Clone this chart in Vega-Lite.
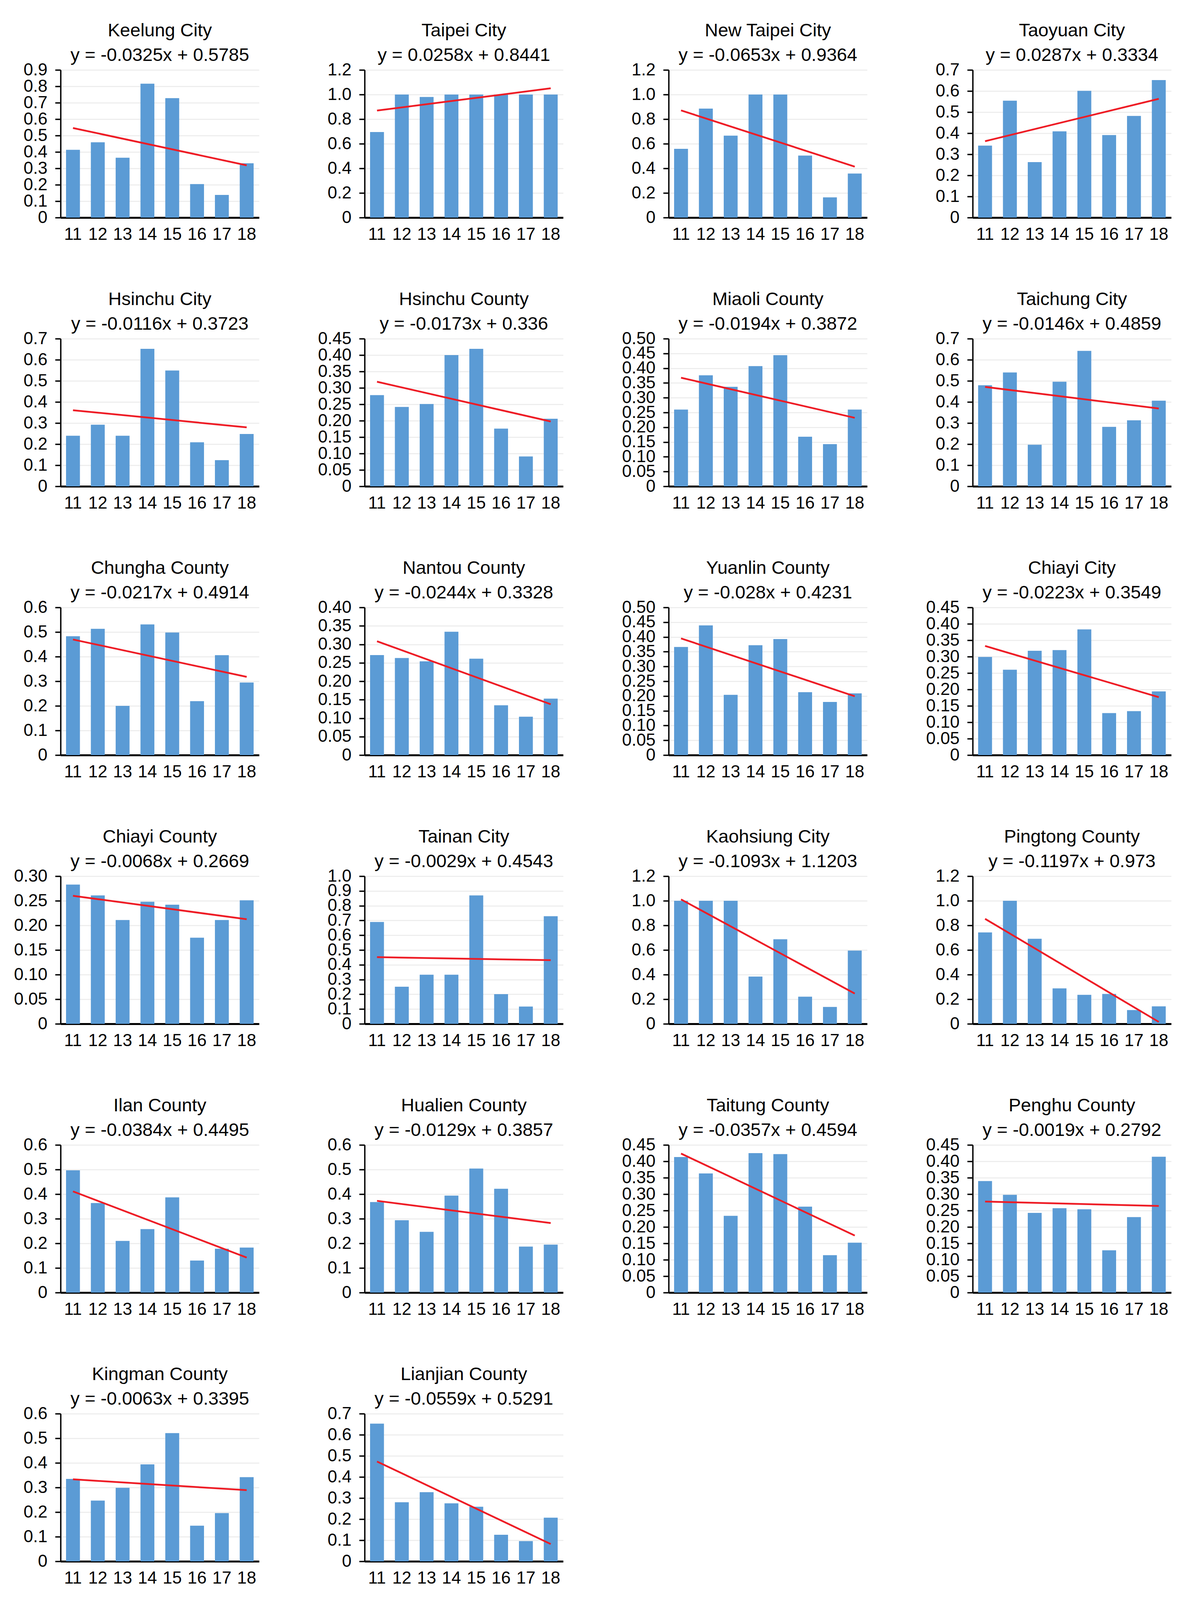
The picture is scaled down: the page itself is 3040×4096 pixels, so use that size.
{
  "$schema": "https://vega.github.io/schema/vega-lite/v6.json",
  "background": "white",
  "padding": {"left": 35, "top": 55, "right": 10, "bottom": 10},
  "config": {
    "font": "Liberation Sans",
    "view": {"stroke": null},
    "scale": {"bandPaddingInner": 0.44, "bandPaddingOuter": 0.22},
    "title": {"font": "Liberation Sans", "fontSize": 47, "fontWeight": "normal", "color": "black", "subtitleFont": "Liberation Sans", "subtitleFontSize": 47, "subtitleColor": "black", "subtitlePadding": 16, "anchor": "middle", "frame": "group", "offset": -9},
    "axis": {"labelFont": "Liberation Sans", "labelFontSize": 44, "labelColor": "black", "title": null, "labelOverlap": false, "labelFlush": false, "labelBound": false},
    "axisY": {"domainColor": "black", "domainWidth": 3.5, "tickColor": "black", "tickWidth": 3.5, "tickSize": 14, "labelPadding": 20, "gridColor": "#EBEBEB", "gridWidth": 2.5, "labelOverlap": false, "tickCount": 20},
    "axisX": {"domainColor": "black", "domainWidth": 5, "ticks": false, "tickSize": 0, "labelAngle": 0, "labelPadding": 21, "grid": false, "zindex": 1}
  },
  "datasets": {
    "bars": [
      {"region": "Keelung City", "year": 11, "value": 0.413}, {"region": "Keelung City", "year": 12, "value": 0.459}, {"region": "Keelung City", "year": 13, "value": 0.365}, {"region": "Keelung City", "year": 14, "value": 0.816}, {"region": "Keelung City", "year": 15, "value": 0.728}, {"region": "Keelung City", "year": 16, "value": 0.204}, {"region": "Keelung City", "year": 17, "value": 0.138}, {"region": "Keelung City", "year": 18, "value": 0.331},
      {"region": "Taipei City", "year": 11, "value": 0.695}, {"region": "Taipei City", "year": 12, "value": 1.0}, {"region": "Taipei City", "year": 13, "value": 0.98}, {"region": "Taipei City", "year": 14, "value": 1.0}, {"region": "Taipei City", "year": 15, "value": 1.0}, {"region": "Taipei City", "year": 16, "value": 1.0}, {"region": "Taipei City", "year": 17, "value": 1.0}, {"region": "Taipei City", "year": 18, "value": 1.0},
      {"region": "New Taipei City", "year": 11, "value": 0.559}, {"region": "New Taipei City", "year": 12, "value": 0.886}, {"region": "New Taipei City", "year": 13, "value": 0.666}, {"region": "New Taipei City", "year": 14, "value": 1.0}, {"region": "New Taipei City", "year": 15, "value": 1.0}, {"region": "New Taipei City", "year": 16, "value": 0.504}, {"region": "New Taipei City", "year": 17, "value": 0.164}, {"region": "New Taipei City", "year": 18, "value": 0.358},
      {"region": "Taoyuan City", "year": 11, "value": 0.341}, {"region": "Taoyuan City", "year": 12, "value": 0.554}, {"region": "Taoyuan City", "year": 13, "value": 0.263}, {"region": "Taoyuan City", "year": 14, "value": 0.409}, {"region": "Taoyuan City", "year": 15, "value": 0.601}, {"region": "Taoyuan City", "year": 16, "value": 0.391}, {"region": "Taoyuan City", "year": 17, "value": 0.482}, {"region": "Taoyuan City", "year": 18, "value": 0.652},
      {"region": "Hsinchu City", "year": 11, "value": 0.240}, {"region": "Hsinchu City", "year": 12, "value": 0.292}, {"region": "Hsinchu City", "year": 13, "value": 0.240}, {"region": "Hsinchu City", "year": 14, "value": 0.652}, {"region": "Hsinchu City", "year": 15, "value": 0.549}, {"region": "Hsinchu City", "year": 16, "value": 0.209}, {"region": "Hsinchu City", "year": 17, "value": 0.124}, {"region": "Hsinchu City", "year": 18, "value": 0.248},
      {"region": "Hsinchu County", "year": 11, "value": 0.278}, {"region": "Hsinchu County", "year": 12, "value": 0.242}, {"region": "Hsinchu County", "year": 13, "value": 0.251}, {"region": "Hsinchu County", "year": 14, "value": 0.400}, {"region": "Hsinchu County", "year": 15, "value": 0.419}, {"region": "Hsinchu County", "year": 16, "value": 0.176}, {"region": "Hsinchu County", "year": 17, "value": 0.091}, {"region": "Hsinchu County", "year": 18, "value": 0.206},
      {"region": "Miaoli County", "year": 11, "value": 0.260}, {"region": "Miaoli County", "year": 12, "value": 0.376}, {"region": "Miaoli County", "year": 13, "value": 0.337}, {"region": "Miaoli County", "year": 14, "value": 0.407}, {"region": "Miaoli County", "year": 15, "value": 0.444}, {"region": "Miaoli County", "year": 16, "value": 0.168}, {"region": "Miaoli County", "year": 17, "value": 0.143}, {"region": "Miaoli County", "year": 18, "value": 0.260},
      {"region": "Taichung City", "year": 11, "value": 0.479}, {"region": "Taichung City", "year": 12, "value": 0.540}, {"region": "Taichung City", "year": 13, "value": 0.197}, {"region": "Taichung City", "year": 14, "value": 0.496}, {"region": "Taichung City", "year": 15, "value": 0.642}, {"region": "Taichung City", "year": 16, "value": 0.282}, {"region": "Taichung City", "year": 17, "value": 0.313}, {"region": "Taichung City", "year": 18, "value": 0.406},
      {"region": "Chungha County", "year": 11, "value": 0.483}, {"region": "Chungha County", "year": 12, "value": 0.513}, {"region": "Chungha County", "year": 13, "value": 0.200}, {"region": "Chungha County", "year": 14, "value": 0.531}, {"region": "Chungha County", "year": 15, "value": 0.498}, {"region": "Chungha County", "year": 16, "value": 0.219}, {"region": "Chungha County", "year": 17, "value": 0.406}, {"region": "Chungha County", "year": 18, "value": 0.295},
      {"region": "Nantou County", "year": 11, "value": 0.271}, {"region": "Nantou County", "year": 12, "value": 0.263}, {"region": "Nantou County", "year": 13, "value": 0.254}, {"region": "Nantou County", "year": 14, "value": 0.334}, {"region": "Nantou County", "year": 15, "value": 0.261}, {"region": "Nantou County", "year": 16, "value": 0.135}, {"region": "Nantou County", "year": 17, "value": 0.104}, {"region": "Nantou County", "year": 18, "value": 0.153},
      {"region": "Yuanlin County", "year": 11, "value": 0.366}, {"region": "Yuanlin County", "year": 12, "value": 0.439}, {"region": "Yuanlin County", "year": 13, "value": 0.204}, {"region": "Yuanlin County", "year": 14, "value": 0.372}, {"region": "Yuanlin County", "year": 15, "value": 0.393}, {"region": "Yuanlin County", "year": 16, "value": 0.213}, {"region": "Yuanlin County", "year": 17, "value": 0.180}, {"region": "Yuanlin County", "year": 18, "value": 0.209},
      {"region": "Chiayi City", "year": 11, "value": 0.299}, {"region": "Chiayi City", "year": 12, "value": 0.260}, {"region": "Chiayi City", "year": 13, "value": 0.318}, {"region": "Chiayi City", "year": 14, "value": 0.320}, {"region": "Chiayi City", "year": 15, "value": 0.383}, {"region": "Chiayi City", "year": 16, "value": 0.128}, {"region": "Chiayi City", "year": 17, "value": 0.134}, {"region": "Chiayi City", "year": 18, "value": 0.194},
      {"region": "Chiayi County", "year": 11, "value": 0.283}, {"region": "Chiayi County", "year": 12, "value": 0.261}, {"region": "Chiayi County", "year": 13, "value": 0.211}, {"region": "Chiayi County", "year": 14, "value": 0.248}, {"region": "Chiayi County", "year": 15, "value": 0.242}, {"region": "Chiayi County", "year": 16, "value": 0.175}, {"region": "Chiayi County", "year": 17, "value": 0.211}, {"region": "Chiayi County", "year": 18, "value": 0.251},
      {"region": "Tainan City", "year": 11, "value": 0.690}, {"region": "Tainan City", "year": 12, "value": 0.251}, {"region": "Tainan City", "year": 13, "value": 0.333}, {"region": "Tainan City", "year": 14, "value": 0.333}, {"region": "Tainan City", "year": 15, "value": 0.870}, {"region": "Tainan City", "year": 16, "value": 0.201}, {"region": "Tainan City", "year": 17, "value": 0.117}, {"region": "Tainan City", "year": 18, "value": 0.729},
      {"region": "Kaohsiung City", "year": 11, "value": 1.0}, {"region": "Kaohsiung City", "year": 12, "value": 1.0}, {"region": "Kaohsiung City", "year": 13, "value": 1.0}, {"region": "Kaohsiung City", "year": 14, "value": 0.384}, {"region": "Kaohsiung City", "year": 15, "value": 0.687}, {"region": "Kaohsiung City", "year": 16, "value": 0.221}, {"region": "Kaohsiung City", "year": 17, "value": 0.137}, {"region": "Kaohsiung City", "year": 18, "value": 0.595},
      {"region": "Pingtong County", "year": 11, "value": 0.743}, {"region": "Pingtong County", "year": 12, "value": 1.0}, {"region": "Pingtong County", "year": 13, "value": 0.691}, {"region": "Pingtong County", "year": 14, "value": 0.288}, {"region": "Pingtong County", "year": 15, "value": 0.236}, {"region": "Pingtong County", "year": 16, "value": 0.243}, {"region": "Pingtong County", "year": 17, "value": 0.112}, {"region": "Pingtong County", "year": 18, "value": 0.142},
      {"region": "Ilan County", "year": 11, "value": 0.497}, {"region": "Ilan County", "year": 12, "value": 0.364}, {"region": "Ilan County", "year": 13, "value": 0.210}, {"region": "Ilan County", "year": 14, "value": 0.258}, {"region": "Ilan County", "year": 15, "value": 0.387}, {"region": "Ilan County", "year": 16, "value": 0.130}, {"region": "Ilan County", "year": 17, "value": 0.178}, {"region": "Ilan County", "year": 18, "value": 0.183},
      {"region": "Hualien County", "year": 11, "value": 0.368}, {"region": "Hualien County", "year": 12, "value": 0.294}, {"region": "Hualien County", "year": 13, "value": 0.247}, {"region": "Hualien County", "year": 14, "value": 0.394}, {"region": "Hualien County", "year": 15, "value": 0.504}, {"region": "Hualien County", "year": 16, "value": 0.422}, {"region": "Hualien County", "year": 17, "value": 0.187}, {"region": "Hualien County", "year": 18, "value": 0.195},
      {"region": "Taitung County", "year": 11, "value": 0.413}, {"region": "Taitung County", "year": 12, "value": 0.363}, {"region": "Taitung County", "year": 13, "value": 0.234}, {"region": "Taitung County", "year": 14, "value": 0.425}, {"region": "Taitung County", "year": 15, "value": 0.422}, {"region": "Taitung County", "year": 16, "value": 0.262}, {"region": "Taitung County", "year": 17, "value": 0.114}, {"region": "Taitung County", "year": 18, "value": 0.152},
      {"region": "Penghu County", "year": 11, "value": 0.340}, {"region": "Penghu County", "year": 12, "value": 0.298}, {"region": "Penghu County", "year": 13, "value": 0.243}, {"region": "Penghu County", "year": 14, "value": 0.257}, {"region": "Penghu County", "year": 15, "value": 0.254}, {"region": "Penghu County", "year": 16, "value": 0.129}, {"region": "Penghu County", "year": 17, "value": 0.230}, {"region": "Penghu County", "year": 18, "value": 0.414},
      {"region": "Kingman County", "year": 11, "value": 0.335}, {"region": "Kingman County", "year": 12, "value": 0.247}, {"region": "Kingman County", "year": 13, "value": 0.299}, {"region": "Kingman County", "year": 14, "value": 0.394}, {"region": "Kingman County", "year": 15, "value": 0.521}, {"region": "Kingman County", "year": 16, "value": 0.145}, {"region": "Kingman County", "year": 17, "value": 0.196}, {"region": "Kingman County", "year": 18, "value": 0.342},
      {"region": "Lianjian County", "year": 11, "value": 0.653}, {"region": "Lianjian County", "year": 12, "value": 0.280}, {"region": "Lianjian County", "year": 13, "value": 0.328}, {"region": "Lianjian County", "year": 14, "value": 0.275}, {"region": "Lianjian County", "year": 15, "value": 0.259}, {"region": "Lianjian County", "year": 16, "value": 0.126}, {"region": "Lianjian County", "year": 17, "value": 0.096}, {"region": "Lianjian County", "year": 18, "value": 0.207}
    ],
    "trend": [
      {"region": "Keelung City", "year": 11, "value": 0.546}, {"region": "Keelung City", "year": 18, "value": 0.3185},
      {"region": "Taipei City", "year": 11, "value": 0.8699}, {"region": "Taipei City", "year": 18, "value": 1.0505},
      {"region": "New Taipei City", "year": 11, "value": 0.8711}, {"region": "New Taipei City", "year": 18, "value": 0.414},
      {"region": "Taoyuan City", "year": 11, "value": 0.3621}, {"region": "Taoyuan City", "year": 18, "value": 0.563},
      {"region": "Hsinchu City", "year": 11, "value": 0.3607}, {"region": "Hsinchu City", "year": 18, "value": 0.2795},
      {"region": "Hsinchu County", "year": 11, "value": 0.3187}, {"region": "Hsinchu County", "year": 18, "value": 0.1976},
      {"region": "Miaoli County", "year": 11, "value": 0.3678}, {"region": "Miaoli County", "year": 18, "value": 0.232},
      {"region": "Taichung City", "year": 11, "value": 0.4713}, {"region": "Taichung City", "year": 18, "value": 0.3691},
      {"region": "Chungha County", "year": 11, "value": 0.4697}, {"region": "Chungha County", "year": 18, "value": 0.3178},
      {"region": "Nantou County", "year": 11, "value": 0.3084}, {"region": "Nantou County", "year": 18, "value": 0.1376},
      {"region": "Yuanlin County", "year": 11, "value": 0.3951}, {"region": "Yuanlin County", "year": 18, "value": 0.1991},
      {"region": "Chiayi City", "year": 11, "value": 0.3326}, {"region": "Chiayi City", "year": 18, "value": 0.1765},
      {"region": "Chiayi County", "year": 11, "value": 0.2601}, {"region": "Chiayi County", "year": 18, "value": 0.2125},
      {"region": "Tainan City", "year": 11, "value": 0.4514}, {"region": "Tainan City", "year": 18, "value": 0.4311},
      {"region": "Kaohsiung City", "year": 11, "value": 1.011}, {"region": "Kaohsiung City", "year": 18, "value": 0.2459},
      {"region": "Pingtong County", "year": 11, "value": 0.8533}, {"region": "Pingtong County", "year": 18, "value": 0.0154},
      {"region": "Ilan County", "year": 11, "value": 0.4111}, {"region": "Ilan County", "year": 18, "value": 0.1423},
      {"region": "Hualien County", "year": 11, "value": 0.3728}, {"region": "Hualien County", "year": 18, "value": 0.2825},
      {"region": "Taitung County", "year": 11, "value": 0.4237}, {"region": "Taitung County", "year": 18, "value": 0.1738},
      {"region": "Penghu County", "year": 11, "value": 0.2773}, {"region": "Penghu County", "year": 18, "value": 0.264},
      {"region": "Kingman County", "year": 11, "value": 0.3332}, {"region": "Kingman County", "year": 18, "value": 0.2891},
      {"region": "Lianjian County", "year": 11, "value": 0.4732}, {"region": "Lianjian County", "year": 18, "value": 0.0819}
    ]
  },
  "columns": 4,
  "spacing": {"row": 121, "column": 150},
  "concat": [
    {"title": {"text": "Keelung City", "subtitle": "y = -0.0325x + 0.5785"}, "width": 508, "height": 378, "layer": [
      {"data": {"name": "bars"}, "transform": [{"filter": "datum.region == 'Keelung City'"}], "mark": {"type": "bar", "color": "#5B9BD5"}, "encoding": {"x": {"field": "year", "type": "ordinal"}, "y": {"field": "value", "type": "quantitative", "scale": {"domain": [0, 0.9]}, "axis": {"tickCount": 20, "labelOverlap": false, "values": [0, 0.1, 0.2, 0.3, 0.4, 0.5, 0.6, 0.7, 0.8, 0.9], "labelExpr": "datum.value == 0 ? '0' : format(datum.value, '.1f')"}}}},
      {"data": {"name": "trend"}, "transform": [{"filter": "datum.region == 'Keelung City'"}], "mark": {"type": "line", "color": "#EE1C25", "strokeWidth": 4.5}, "encoding": {"x": {"field": "year", "type": "ordinal"}, "y": {"field": "value", "type": "quantitative"}}}
    ]},
    {"title": {"text": "Taipei City", "subtitle": "y = 0.0258x + 0.8441"}, "width": 508, "height": 378, "layer": [
      {"data": {"name": "bars"}, "transform": [{"filter": "datum.region == 'Taipei City'"}], "mark": {"type": "bar", "color": "#5B9BD5"}, "encoding": {"x": {"field": "year", "type": "ordinal"}, "y": {"field": "value", "type": "quantitative", "scale": {"domain": [0, 1.2]}, "axis": {"tickCount": 20, "labelOverlap": false, "values": [0, 0.2, 0.4, 0.6, 0.8, 1.0, 1.2], "labelExpr": "datum.value == 0 ? '0' : format(datum.value, '.1f')"}}}},
      {"data": {"name": "trend"}, "transform": [{"filter": "datum.region == 'Taipei City'"}], "mark": {"type": "line", "color": "#EE1C25", "strokeWidth": 4.5}, "encoding": {"x": {"field": "year", "type": "ordinal"}, "y": {"field": "value", "type": "quantitative"}}}
    ]},
    {"title": {"text": "New Taipei City", "subtitle": "y = -0.0653x + 0.9364"}, "width": 508, "height": 378, "layer": [
      {"data": {"name": "bars"}, "transform": [{"filter": "datum.region == 'New Taipei City'"}], "mark": {"type": "bar", "color": "#5B9BD5"}, "encoding": {"x": {"field": "year", "type": "ordinal"}, "y": {"field": "value", "type": "quantitative", "scale": {"domain": [0, 1.2]}, "axis": {"tickCount": 20, "labelOverlap": false, "values": [0, 0.2, 0.4, 0.6, 0.8, 1.0, 1.2], "labelExpr": "datum.value == 0 ? '0' : format(datum.value, '.1f')"}}}},
      {"data": {"name": "trend"}, "transform": [{"filter": "datum.region == 'New Taipei City'"}], "mark": {"type": "line", "color": "#EE1C25", "strokeWidth": 4.5}, "encoding": {"x": {"field": "year", "type": "ordinal"}, "y": {"field": "value", "type": "quantitative"}}}
    ]},
    {"title": {"text": "Taoyuan City", "subtitle": "y = 0.0287x + 0.3334"}, "width": 508, "height": 378, "layer": [
      {"data": {"name": "bars"}, "transform": [{"filter": "datum.region == 'Taoyuan City'"}], "mark": {"type": "bar", "color": "#5B9BD5"}, "encoding": {"x": {"field": "year", "type": "ordinal"}, "y": {"field": "value", "type": "quantitative", "scale": {"domain": [0, 0.7]}, "axis": {"tickCount": 20, "labelOverlap": false, "values": [0, 0.1, 0.2, 0.3, 0.4, 0.5, 0.6, 0.7], "labelExpr": "datum.value == 0 ? '0' : format(datum.value, '.1f')"}}}},
      {"data": {"name": "trend"}, "transform": [{"filter": "datum.region == 'Taoyuan City'"}], "mark": {"type": "line", "color": "#EE1C25", "strokeWidth": 4.5}, "encoding": {"x": {"field": "year", "type": "ordinal"}, "y": {"field": "value", "type": "quantitative"}}}
    ]},
    {"title": {"text": "Hsinchu City", "subtitle": "y = -0.0116x + 0.3723"}, "width": 508, "height": 378, "layer": [
      {"data": {"name": "bars"}, "transform": [{"filter": "datum.region == 'Hsinchu City'"}], "mark": {"type": "bar", "color": "#5B9BD5"}, "encoding": {"x": {"field": "year", "type": "ordinal"}, "y": {"field": "value", "type": "quantitative", "scale": {"domain": [0, 0.7]}, "axis": {"tickCount": 20, "labelOverlap": false, "values": [0, 0.1, 0.2, 0.3, 0.4, 0.5, 0.6, 0.7], "labelExpr": "datum.value == 0 ? '0' : format(datum.value, '.1f')"}}}},
      {"data": {"name": "trend"}, "transform": [{"filter": "datum.region == 'Hsinchu City'"}], "mark": {"type": "line", "color": "#EE1C25", "strokeWidth": 4.5}, "encoding": {"x": {"field": "year", "type": "ordinal"}, "y": {"field": "value", "type": "quantitative"}}}
    ]},
    {"title": {"text": "Hsinchu County", "subtitle": "y = -0.0173x + 0.336"}, "width": 508, "height": 378, "layer": [
      {"data": {"name": "bars"}, "transform": [{"filter": "datum.region == 'Hsinchu County'"}], "mark": {"type": "bar", "color": "#5B9BD5"}, "encoding": {"x": {"field": "year", "type": "ordinal"}, "y": {"field": "value", "type": "quantitative", "scale": {"domain": [0, 0.45]}, "axis": {"tickCount": 20, "labelOverlap": false, "values": [0, 0.05, 0.1, 0.15, 0.2, 0.25, 0.3, 0.35, 0.4, 0.45], "labelExpr": "datum.value == 0 ? '0' : format(datum.value, '.2f')"}}}},
      {"data": {"name": "trend"}, "transform": [{"filter": "datum.region == 'Hsinchu County'"}], "mark": {"type": "line", "color": "#EE1C25", "strokeWidth": 4.5}, "encoding": {"x": {"field": "year", "type": "ordinal"}, "y": {"field": "value", "type": "quantitative"}}}
    ]},
    {"title": {"text": "Miaoli County", "subtitle": "y = -0.0194x + 0.3872"}, "width": 508, "height": 378, "layer": [
      {"data": {"name": "bars"}, "transform": [{"filter": "datum.region == 'Miaoli County'"}], "mark": {"type": "bar", "color": "#5B9BD5"}, "encoding": {"x": {"field": "year", "type": "ordinal"}, "y": {"field": "value", "type": "quantitative", "scale": {"domain": [0, 0.5]}, "axis": {"tickCount": 20, "labelOverlap": false, "values": [0, 0.05, 0.1, 0.15, 0.2, 0.25, 0.3, 0.35, 0.4, 0.45, 0.5], "labelExpr": "datum.value == 0 ? '0' : format(datum.value, '.2f')"}}}},
      {"data": {"name": "trend"}, "transform": [{"filter": "datum.region == 'Miaoli County'"}], "mark": {"type": "line", "color": "#EE1C25", "strokeWidth": 4.5}, "encoding": {"x": {"field": "year", "type": "ordinal"}, "y": {"field": "value", "type": "quantitative"}}}
    ]},
    {"title": {"text": "Taichung City", "subtitle": "y = -0.0146x + 0.4859"}, "width": 508, "height": 378, "layer": [
      {"data": {"name": "bars"}, "transform": [{"filter": "datum.region == 'Taichung City'"}], "mark": {"type": "bar", "color": "#5B9BD5"}, "encoding": {"x": {"field": "year", "type": "ordinal"}, "y": {"field": "value", "type": "quantitative", "scale": {"domain": [0, 0.7]}, "axis": {"tickCount": 20, "labelOverlap": false, "values": [0, 0.1, 0.2, 0.3, 0.4, 0.5, 0.6, 0.7], "labelExpr": "datum.value == 0 ? '0' : format(datum.value, '.1f')"}}}},
      {"data": {"name": "trend"}, "transform": [{"filter": "datum.region == 'Taichung City'"}], "mark": {"type": "line", "color": "#EE1C25", "strokeWidth": 4.5}, "encoding": {"x": {"field": "year", "type": "ordinal"}, "y": {"field": "value", "type": "quantitative"}}}
    ]},
    {"title": {"text": "Chungha County", "subtitle": "y = -0.0217x + 0.4914"}, "width": 508, "height": 378, "layer": [
      {"data": {"name": "bars"}, "transform": [{"filter": "datum.region == 'Chungha County'"}], "mark": {"type": "bar", "color": "#5B9BD5"}, "encoding": {"x": {"field": "year", "type": "ordinal"}, "y": {"field": "value", "type": "quantitative", "scale": {"domain": [0, 0.6]}, "axis": {"tickCount": 20, "labelOverlap": false, "values": [0, 0.1, 0.2, 0.3, 0.4, 0.5, 0.6], "labelExpr": "datum.value == 0 ? '0' : format(datum.value, '.1f')"}}}},
      {"data": {"name": "trend"}, "transform": [{"filter": "datum.region == 'Chungha County'"}], "mark": {"type": "line", "color": "#EE1C25", "strokeWidth": 4.5}, "encoding": {"x": {"field": "year", "type": "ordinal"}, "y": {"field": "value", "type": "quantitative"}}}
    ]},
    {"title": {"text": "Nantou County", "subtitle": "y = -0.0244x + 0.3328"}, "width": 508, "height": 378, "layer": [
      {"data": {"name": "bars"}, "transform": [{"filter": "datum.region == 'Nantou County'"}], "mark": {"type": "bar", "color": "#5B9BD5"}, "encoding": {"x": {"field": "year", "type": "ordinal"}, "y": {"field": "value", "type": "quantitative", "scale": {"domain": [0, 0.4]}, "axis": {"tickCount": 20, "labelOverlap": false, "values": [0, 0.05, 0.1, 0.15, 0.2, 0.25, 0.3, 0.35, 0.4], "labelExpr": "datum.value == 0 ? '0' : format(datum.value, '.2f')"}}}},
      {"data": {"name": "trend"}, "transform": [{"filter": "datum.region == 'Nantou County'"}], "mark": {"type": "line", "color": "#EE1C25", "strokeWidth": 4.5}, "encoding": {"x": {"field": "year", "type": "ordinal"}, "y": {"field": "value", "type": "quantitative"}}}
    ]},
    {"title": {"text": "Yuanlin County", "subtitle": "y = -0.028x + 0.4231"}, "width": 508, "height": 378, "layer": [
      {"data": {"name": "bars"}, "transform": [{"filter": "datum.region == 'Yuanlin County'"}], "mark": {"type": "bar", "color": "#5B9BD5"}, "encoding": {"x": {"field": "year", "type": "ordinal"}, "y": {"field": "value", "type": "quantitative", "scale": {"domain": [0, 0.5]}, "axis": {"tickCount": 20, "labelOverlap": false, "values": [0, 0.05, 0.1, 0.15, 0.2, 0.25, 0.3, 0.35, 0.4, 0.45, 0.5], "labelExpr": "datum.value == 0 ? '0' : format(datum.value, '.2f')"}}}},
      {"data": {"name": "trend"}, "transform": [{"filter": "datum.region == 'Yuanlin County'"}], "mark": {"type": "line", "color": "#EE1C25", "strokeWidth": 4.5}, "encoding": {"x": {"field": "year", "type": "ordinal"}, "y": {"field": "value", "type": "quantitative"}}}
    ]},
    {"title": {"text": "Chiayi City", "subtitle": "y = -0.0223x + 0.3549"}, "width": 508, "height": 378, "layer": [
      {"data": {"name": "bars"}, "transform": [{"filter": "datum.region == 'Chiayi City'"}], "mark": {"type": "bar", "color": "#5B9BD5"}, "encoding": {"x": {"field": "year", "type": "ordinal"}, "y": {"field": "value", "type": "quantitative", "scale": {"domain": [0, 0.45]}, "axis": {"tickCount": 20, "labelOverlap": false, "values": [0, 0.05, 0.1, 0.15, 0.2, 0.25, 0.3, 0.35, 0.4, 0.45], "labelExpr": "datum.value == 0 ? '0' : format(datum.value, '.2f')"}}}},
      {"data": {"name": "trend"}, "transform": [{"filter": "datum.region == 'Chiayi City'"}], "mark": {"type": "line", "color": "#EE1C25", "strokeWidth": 4.5}, "encoding": {"x": {"field": "year", "type": "ordinal"}, "y": {"field": "value", "type": "quantitative"}}}
    ]},
    {"title": {"text": "Chiayi County", "subtitle": "y = -0.0068x + 0.2669"}, "width": 508, "height": 378, "layer": [
      {"data": {"name": "bars"}, "transform": [{"filter": "datum.region == 'Chiayi County'"}], "mark": {"type": "bar", "color": "#5B9BD5"}, "encoding": {"x": {"field": "year", "type": "ordinal"}, "y": {"field": "value", "type": "quantitative", "scale": {"domain": [0, 0.3]}, "axis": {"tickCount": 20, "labelOverlap": false, "values": [0, 0.05, 0.1, 0.15, 0.2, 0.25, 0.3], "labelExpr": "datum.value == 0 ? '0' : format(datum.value, '.2f')"}}}},
      {"data": {"name": "trend"}, "transform": [{"filter": "datum.region == 'Chiayi County'"}], "mark": {"type": "line", "color": "#EE1C25", "strokeWidth": 4.5}, "encoding": {"x": {"field": "year", "type": "ordinal"}, "y": {"field": "value", "type": "quantitative"}}}
    ]},
    {"title": {"text": "Tainan City", "subtitle": "y = -0.0029x + 0.4543"}, "width": 508, "height": 378, "layer": [
      {"data": {"name": "bars"}, "transform": [{"filter": "datum.region == 'Tainan City'"}], "mark": {"type": "bar", "color": "#5B9BD5"}, "encoding": {"x": {"field": "year", "type": "ordinal"}, "y": {"field": "value", "type": "quantitative", "scale": {"domain": [0, 1.0]}, "axis": {"tickCount": 20, "labelOverlap": false, "values": [0, 0.1, 0.2, 0.3, 0.4, 0.5, 0.6, 0.7, 0.8, 0.9, 1.0], "labelExpr": "datum.value == 0 ? '0' : format(datum.value, '.1f')"}}}},
      {"data": {"name": "trend"}, "transform": [{"filter": "datum.region == 'Tainan City'"}], "mark": {"type": "line", "color": "#EE1C25", "strokeWidth": 4.5}, "encoding": {"x": {"field": "year", "type": "ordinal"}, "y": {"field": "value", "type": "quantitative"}}}
    ]},
    {"title": {"text": "Kaohsiung City", "subtitle": "y = -0.1093x + 1.1203"}, "width": 508, "height": 378, "layer": [
      {"data": {"name": "bars"}, "transform": [{"filter": "datum.region == 'Kaohsiung City'"}], "mark": {"type": "bar", "color": "#5B9BD5"}, "encoding": {"x": {"field": "year", "type": "ordinal"}, "y": {"field": "value", "type": "quantitative", "scale": {"domain": [0, 1.2]}, "axis": {"tickCount": 20, "labelOverlap": false, "values": [0, 0.2, 0.4, 0.6, 0.8, 1.0, 1.2], "labelExpr": "datum.value == 0 ? '0' : format(datum.value, '.1f')"}}}},
      {"data": {"name": "trend"}, "transform": [{"filter": "datum.region == 'Kaohsiung City'"}], "mark": {"type": "line", "color": "#EE1C25", "strokeWidth": 4.5}, "encoding": {"x": {"field": "year", "type": "ordinal"}, "y": {"field": "value", "type": "quantitative"}}}
    ]},
    {"title": {"text": "Pingtong County", "subtitle": "y = -0.1197x + 0.973"}, "width": 508, "height": 378, "layer": [
      {"data": {"name": "bars"}, "transform": [{"filter": "datum.region == 'Pingtong County'"}], "mark": {"type": "bar", "color": "#5B9BD5"}, "encoding": {"x": {"field": "year", "type": "ordinal"}, "y": {"field": "value", "type": "quantitative", "scale": {"domain": [0, 1.2]}, "axis": {"tickCount": 20, "labelOverlap": false, "values": [0, 0.2, 0.4, 0.6, 0.8, 1.0, 1.2], "labelExpr": "datum.value == 0 ? '0' : format(datum.value, '.1f')"}}}},
      {"data": {"name": "trend"}, "transform": [{"filter": "datum.region == 'Pingtong County'"}], "mark": {"type": "line", "color": "#EE1C25", "strokeWidth": 4.5}, "encoding": {"x": {"field": "year", "type": "ordinal"}, "y": {"field": "value", "type": "quantitative"}}}
    ]},
    {"title": {"text": "Ilan County", "subtitle": "y = -0.0384x + 0.4495"}, "width": 508, "height": 378, "layer": [
      {"data": {"name": "bars"}, "transform": [{"filter": "datum.region == 'Ilan County'"}], "mark": {"type": "bar", "color": "#5B9BD5"}, "encoding": {"x": {"field": "year", "type": "ordinal"}, "y": {"field": "value", "type": "quantitative", "scale": {"domain": [0, 0.6]}, "axis": {"tickCount": 20, "labelOverlap": false, "values": [0, 0.1, 0.2, 0.3, 0.4, 0.5, 0.6], "labelExpr": "datum.value == 0 ? '0' : format(datum.value, '.1f')"}}}},
      {"data": {"name": "trend"}, "transform": [{"filter": "datum.region == 'Ilan County'"}], "mark": {"type": "line", "color": "#EE1C25", "strokeWidth": 4.5}, "encoding": {"x": {"field": "year", "type": "ordinal"}, "y": {"field": "value", "type": "quantitative"}}}
    ]},
    {"title": {"text": "Hualien County", "subtitle": "y = -0.0129x + 0.3857"}, "width": 508, "height": 378, "layer": [
      {"data": {"name": "bars"}, "transform": [{"filter": "datum.region == 'Hualien County'"}], "mark": {"type": "bar", "color": "#5B9BD5"}, "encoding": {"x": {"field": "year", "type": "ordinal"}, "y": {"field": "value", "type": "quantitative", "scale": {"domain": [0, 0.6]}, "axis": {"tickCount": 20, "labelOverlap": false, "values": [0, 0.1, 0.2, 0.3, 0.4, 0.5, 0.6], "labelExpr": "datum.value == 0 ? '0' : format(datum.value, '.1f')"}}}},
      {"data": {"name": "trend"}, "transform": [{"filter": "datum.region == 'Hualien County'"}], "mark": {"type": "line", "color": "#EE1C25", "strokeWidth": 4.5}, "encoding": {"x": {"field": "year", "type": "ordinal"}, "y": {"field": "value", "type": "quantitative"}}}
    ]},
    {"title": {"text": "Taitung County", "subtitle": "y = -0.0357x + 0.4594"}, "width": 508, "height": 378, "layer": [
      {"data": {"name": "bars"}, "transform": [{"filter": "datum.region == 'Taitung County'"}], "mark": {"type": "bar", "color": "#5B9BD5"}, "encoding": {"x": {"field": "year", "type": "ordinal"}, "y": {"field": "value", "type": "quantitative", "scale": {"domain": [0, 0.45]}, "axis": {"tickCount": 20, "labelOverlap": false, "values": [0, 0.05, 0.1, 0.15, 0.2, 0.25, 0.3, 0.35, 0.4, 0.45], "labelExpr": "datum.value == 0 ? '0' : format(datum.value, '.2f')"}}}},
      {"data": {"name": "trend"}, "transform": [{"filter": "datum.region == 'Taitung County'"}], "mark": {"type": "line", "color": "#EE1C25", "strokeWidth": 4.5}, "encoding": {"x": {"field": "year", "type": "ordinal"}, "y": {"field": "value", "type": "quantitative"}}}
    ]},
    {"title": {"text": "Penghu County", "subtitle": "y = -0.0019x + 0.2792"}, "width": 508, "height": 378, "layer": [
      {"data": {"name": "bars"}, "transform": [{"filter": "datum.region == 'Penghu County'"}], "mark": {"type": "bar", "color": "#5B9BD5"}, "encoding": {"x": {"field": "year", "type": "ordinal"}, "y": {"field": "value", "type": "quantitative", "scale": {"domain": [0, 0.45]}, "axis": {"tickCount": 20, "labelOverlap": false, "values": [0, 0.05, 0.1, 0.15, 0.2, 0.25, 0.3, 0.35, 0.4, 0.45], "labelExpr": "datum.value == 0 ? '0' : format(datum.value, '.2f')"}}}},
      {"data": {"name": "trend"}, "transform": [{"filter": "datum.region == 'Penghu County'"}], "mark": {"type": "line", "color": "#EE1C25", "strokeWidth": 4.5}, "encoding": {"x": {"field": "year", "type": "ordinal"}, "y": {"field": "value", "type": "quantitative"}}}
    ]},
    {"title": {"text": "Kingman County", "subtitle": "y = -0.0063x + 0.3395"}, "width": 508, "height": 378, "layer": [
      {"data": {"name": "bars"}, "transform": [{"filter": "datum.region == 'Kingman County'"}], "mark": {"type": "bar", "color": "#5B9BD5"}, "encoding": {"x": {"field": "year", "type": "ordinal"}, "y": {"field": "value", "type": "quantitative", "scale": {"domain": [0, 0.6]}, "axis": {"tickCount": 20, "labelOverlap": false, "values": [0, 0.1, 0.2, 0.3, 0.4, 0.5, 0.6], "labelExpr": "datum.value == 0 ? '0' : format(datum.value, '.1f')"}}}},
      {"data": {"name": "trend"}, "transform": [{"filter": "datum.region == 'Kingman County'"}], "mark": {"type": "line", "color": "#EE1C25", "strokeWidth": 4.5}, "encoding": {"x": {"field": "year", "type": "ordinal"}, "y": {"field": "value", "type": "quantitative"}}}
    ]},
    {"title": {"text": "Lianjian County", "subtitle": "y = -0.0559x + 0.5291"}, "width": 508, "height": 378, "layer": [
      {"data": {"name": "bars"}, "transform": [{"filter": "datum.region == 'Lianjian County'"}], "mark": {"type": "bar", "color": "#5B9BD5"}, "encoding": {"x": {"field": "year", "type": "ordinal"}, "y": {"field": "value", "type": "quantitative", "scale": {"domain": [0, 0.7]}, "axis": {"tickCount": 20, "labelOverlap": false, "values": [0, 0.1, 0.2, 0.3, 0.4, 0.5, 0.6, 0.7], "labelExpr": "datum.value == 0 ? '0' : format(datum.value, '.1f')"}}}},
      {"data": {"name": "trend"}, "transform": [{"filter": "datum.region == 'Lianjian County'"}], "mark": {"type": "line", "color": "#EE1C25", "strokeWidth": 4.5}, "encoding": {"x": {"field": "year", "type": "ordinal"}, "y": {"field": "value", "type": "quantitative"}}}
    ]}
  ]
}
